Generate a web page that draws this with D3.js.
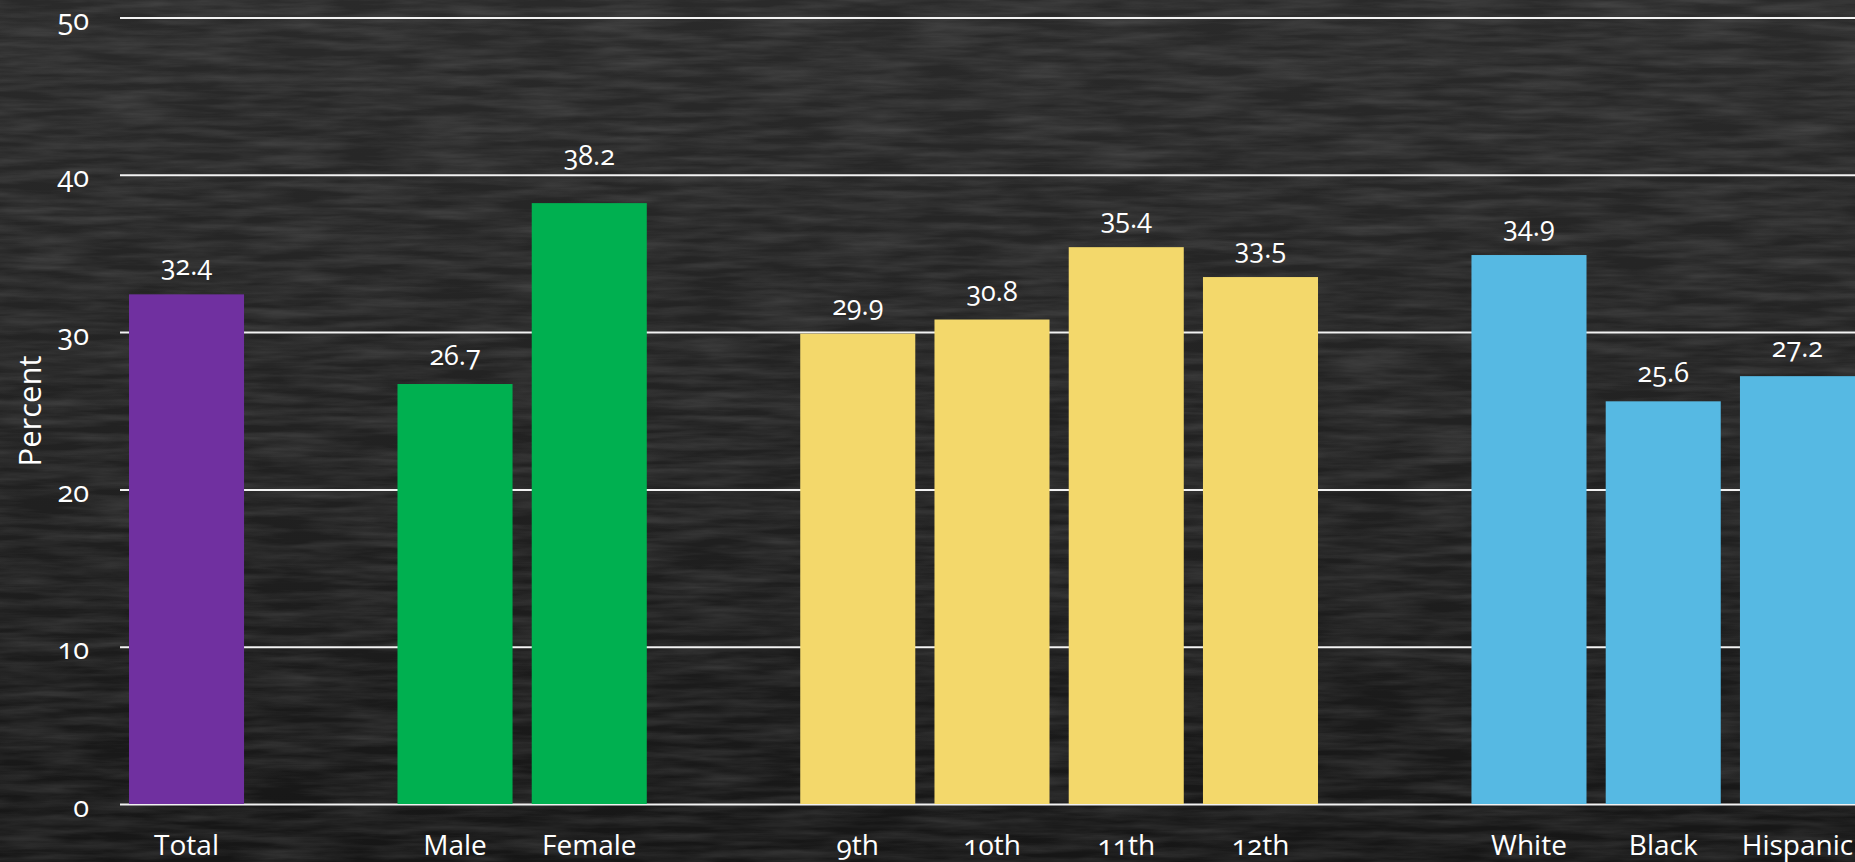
<!DOCTYPE html>
<html lang="en">
  <head>
    <meta charset="UTF-8" />
    <title>Percent by group</title>
    <script src="https://d3js.org/d3.v7.min.js"></script>
    <style>
      html, body { margin: 0; padding: 0; background: #1c1c1c; overflow: hidden; }
      text { font-family: "Open Sans", "Noto Sans", sans-serif; fill: #ffffff; font-variant-numeric: oldstyle-nums; }
    </style>
  </head>
  <body>
    <div id="chart"></div>
    <script>
      // data
      const categories = ["Total", "Male", "Female", "9th", "10th", "11th", "12th", "White", "Black", "Hispanic"];
      const values = [32.4, 26.7, 38.2, 29.9, 30.8, 35.4, 33.5, 34.9, 25.6, 27.2];
      const groupOf = [0, 1, 1, 2, 2, 2, 2, 3, 3, 3];
      const groupColors = ["#7030A0", "#00B050", "#F3D86B", "#56B9E3"];
      const yTicks = [0, 10, 20, 30, 40, 50];

      const width = 1855, height = 862;

      // one empty slot between groups
      const slots = [];
      categories.forEach((c, i) => {
        if (i > 0 && groupOf[i] !== groupOf[i - 1]) slots.push("gap" + i);
        slots.push(c);
      });

      const x = d3.scaleBand().domain(slots).range([129, 1855]).paddingInner(0.143).paddingOuter(0);
      const y = d3.scaleLinear().domain([0, 50]).range([804, 17.5]);

      const svg = d3.select("#chart").append("svg")
        .attr("width", width)
        .attr("height", height);

      // chalkboard background
      const defs = svg.append("defs");
      const grad = defs.append("linearGradient").attr("id", "bg").attr("x1", 0).attr("y1", 0).attr("x2", 0).attr("y2", 1);
      grad.append("stop").attr("offset", "0%").attr("stop-color", "#2a2a2a");
      grad.append("stop").attr("offset", "55%").attr("stop-color", "#212121");
      grad.append("stop").attr("offset", "100%").attr("stop-color", "#161616");
      const f = defs.append("filter").attr("id", "chalk").attr("x", 0).attr("y", 0).attr("width", "100%").attr("height", "100%");
      f.append("feTurbulence").attr("type", "fractalNoise").attr("baseFrequency", "0.012 0.12").attr("numOctaves", 4).attr("seed", 4);
      f.append("feColorMatrix").attr("type", "matrix")
        .attr("values", "0 0 0 0 1  0 0 0 0 1  0 0 0 0 1  0 0 0 0.2 -0.06");
      svg.append("rect").attr("width", width).attr("height", height).attr("fill", "url(#bg)");
      svg.append("rect").attr("width", width).attr("height", height).attr("filter", "url(#chalk)");

      // y axis with grid lines
      const yAxis = svg.append("g")
        .attr("transform", "translate(120,0)")
        .attr("font-family", null)
        .call(d3.axisLeft(y).tickValues(yTicks).tickSize(-(width - 120)).tickPadding(31));
      yAxis.attr("font-family", null);
      yAxis.select(".domain").remove();
      yAxis.selectAll(".tick line").attr("stroke", "#f2f2f2").attr("stroke-width", 2);
      yAxis.selectAll(".tick text")
        .attr("font-size", 29)
        .attr("dy", "0.42em");

      // bars
      svg.append("g").selectAll("rect")
        .data(values)
        .join("rect")
        .attr("x", (d, i) => x(categories[i]))
        .attr("y", d => y(d))
        .attr("width", x.bandwidth())
        .attr("height", d => y(0) - y(d))
        .attr("fill", (d, i) => groupColors[groupOf[i]]);

      // value labels: sit above the bar, and above a grid line they would touch
      function labelY(v) {
        let b = y(v) - 19;
        yTicks.forEach(t => {
          const g = y(t);
          if (g > b - 20 && g < b + 5) b = g - 10;
        });
        return b;
      }
      svg.append("g").selectAll("text")
        .data(values)
        .join("text")
        .attr("x", (d, i) => x(categories[i]) + x.bandwidth() / 2)
        .attr("y", d => labelY(d))
        .attr("text-anchor", "middle")
        .attr("font-size", 27)
        .text(d => d.toFixed(1));

      // x axis labels
      const xAxis = svg.append("g")
        .attr("transform", `translate(0,${y(0)})`)
        .call(d3.axisBottom(x).tickValues(categories).tickSize(0));
      xAxis.attr("font-family", null);
      xAxis.select(".domain").remove();
      xAxis.selectAll(".tick text")
        .attr("y", 51)
        .attr("dy", 0)
        .attr("font-size", 28);

      // axis title
      svg.append("text")
        .attr("transform", "translate(41,411) rotate(-90)")
        .attr("text-anchor", "middle")
        .attr("font-size", 31)
        .text("Percent");
    </script>
  </body>
</html>
